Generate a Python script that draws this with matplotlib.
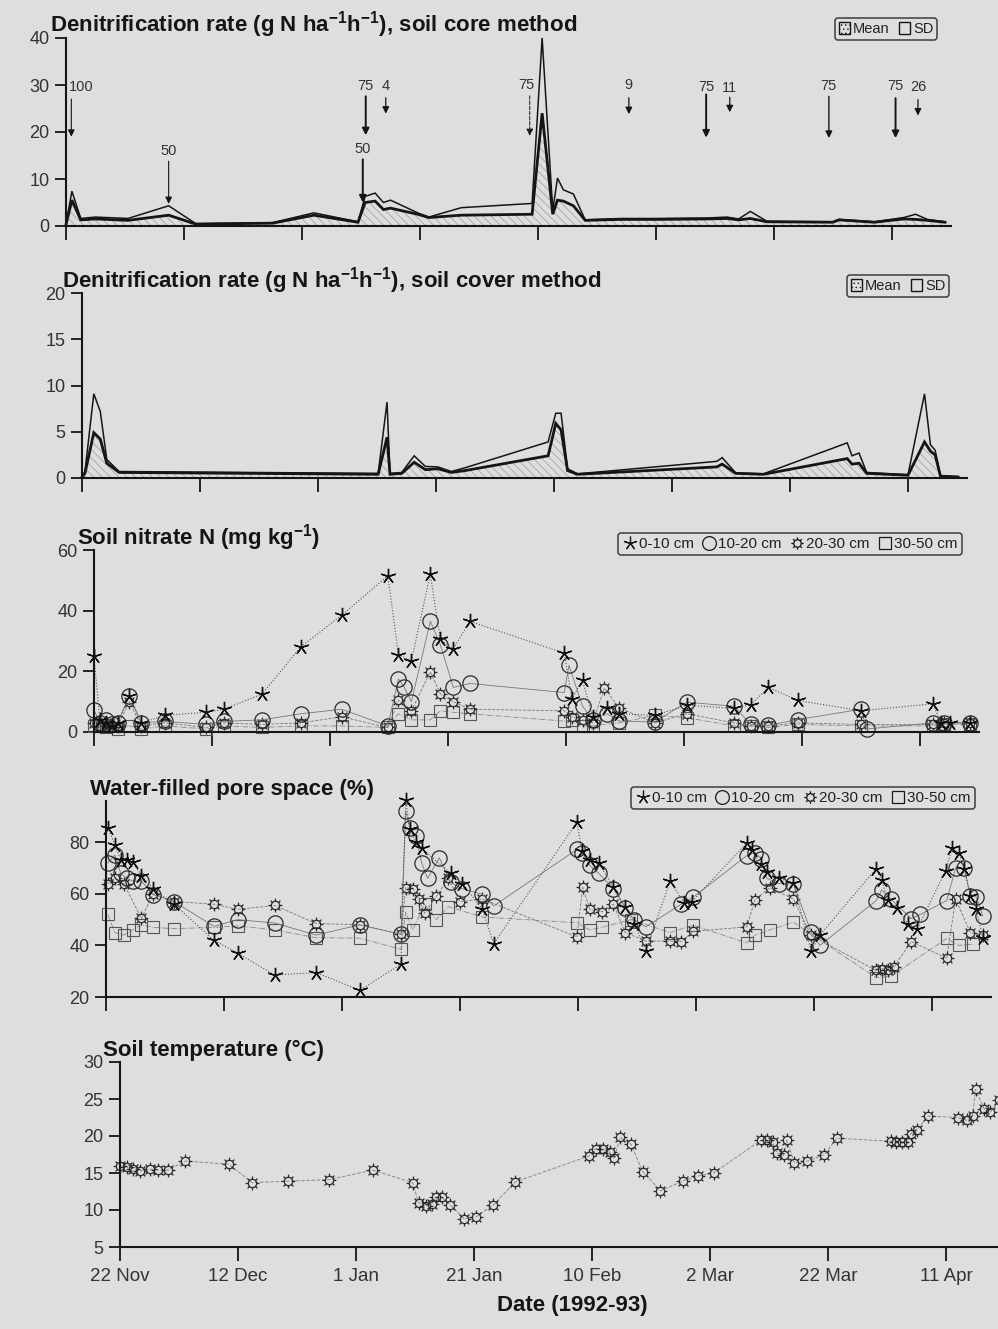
import matplotlib
matplotlib.use('Agg')
import matplotlib.pyplot as plt
from matplotlib.path import Path
from matplotlib.patches import Patch
from matplotlib.lines import Line2D
import numpy as np

plt.rcParams['font.family'] = ['Liberation Sans', 'DejaVu Sans']
plt.rcParams['mathtext.default'] = 'regular'
plt.rcParams['hatch.linewidth'] = 0.5

# ---------------- data ----------------
tick_days = [0, 20, 40, 60, 80, 100, 120, 140]
tick_labels = ['22 Nov', '12 Dec', '1 Jan', '21 Jan', '10 Feb', '2 Mar', '22 Mar', '11 Apr']

# Panel 1: soil core method
core_days = [0, 1, 2.5, 5, 10.5, 17.4, 22, 35, 42, 49.5, 50.7, 52.4, 53.8, 55, 59.6, 61.5, 67, 79, 80.7,
             82.5, 83.3, 84.3, 86, 88, 94, 100, 108.6, 112, 114, 116, 118.8, 130, 131, 137, 142, 144, 146, 149]
core_mean = [0.3, 5.5, 1.3, 1.5, 1.2, 2.3, 0.4, 0.6, 2.3, 0.8, 5.0, 5.3, 3.5, 3.8, 2.5, 1.8, 2.3, 2.5, 24,
             2.5, 5.5, 5.3, 4.3, 1.2, 1.4, 1.4, 1.5, 1.6, 1.3, 1.6, 0.9, 0.8, 1.3, 0.8, 1.5, 1.4, 1.2, 0.8]
core_sd = [0.1, 1.9, 0.3, 0.4, 0.4, 2.0, 0.1, 0.1, 0.5, 0.1, 1.3, 1.7, 1.5, 1.7, 0.3, 0.1, 1.6, 2.3, 16,
           0.8, 4.7, 2.4, 2.5, 0.1, 0.2, 0.2, 0.2, 0.3, 0.2, 1.5, 0.1, 0.1, 0.1, 0.1, 0.3, 1.1, 0.2, 0.1]

arrow_days = [0.9, 17.4, 50.8, 54.2, 50.3, 78.6, 95.4, 108.5, 112.5, 129.3, 140.6, 144.4]
arrow_labels = ['100', '50', '75', '4', '50', '75', '9', '75', '11', '75', '75', '26']
arrow_tail = [27, 13.8, 27.6, 27.3, 14.2, 27.7, 27.3, 28, 27.4, 27.6, 27.2, 26.9]
arrow_head = [19, 4.7, 19.3, 23.9, 5.0, 19.2, 23.8, 18.8, 24.2, 18.7, 18.7, 23.5]
arrow_label_v = [29.6, 16, 29.7, 29.7, 16.3, 29.9, 30, 29.6, 29.3, 29.7, 29.8, 29.5]
arrow_label_day = [2.6, 17.4, 50.8, 54.2, 50.3, 78.0, 95.4, 108.5, 112.5, 129.3, 140.6, 144.4]
arrow_lw = [0.8, 0.8, 1.4, 0.9, 1.4, 0.7, 0.9, 1.4, 0.9, 1.0, 1.4, 0.9]
arrow_ls = ['-', '-', '-', '-', '-', '--', '-', '-', '-', '-', '-', '-']

# Panel 2: soil cover method
cover_days = [0, 0.5, 2, 3.1, 4.2, 6.3, 50.2, 51.7, 52.2, 54.2, 56.3, 58.2, 60.3, 62.6, 64.9, 79, 80.3, 81.2,
              82.3, 84, 107.6, 108.5, 110.8, 115.5, 129.7, 130.5, 131.7, 133, 140, 142.8, 143.8, 144.6, 145.5, 148.5]
cover_mean = [0.1, 0.5, 4.9, 4.2, 1.6, 0.6, 0.4, 4.4, 0.4, 0.5, 1.7, 0.9, 1.0, 0.6, 0.8, 2.4, 5.9, 5.2,
              0.8, 0.4, 1.2, 1.5, 0.5, 0.4, 2.1, 1.5, 1.6, 0.5, 0.3, 3.9, 2.9, 2.5, 0.2, 0.1]
cover_sd = [0.1, 0.2, 4.2, 3.0, 0.4, 0.1, 0.1, 3.8, 0.1, 0.1, 0.7, 0.35, 0.2, 0.1, 0.3, 1.5, 1.1, 1.8,
            0.2, 0.05, 0.6, 0.7, 0.05, 0.05, 1.7, 0.9, 1.1, 0.1, 0.05, 5.2, 0.7, 0.5, 0.05, 0.05]

# Panel 3: soil nitrate N
no3_star_days = [0, 1, 2, 3, 4, 6, 8, 12, 19, 22, 28.5, 35, 42, 49.8, 51.6, 53.8, 57, 58.7, 60.9, 63.7,
                 79.7, 81, 82.8, 84.5, 87, 89, 95, 100.5, 108.5, 111.3, 114.3, 119.3, 130, 142.2, 143.5, 145, 148.5]
no3_star = [25, 4, 3, 2, 3, 12, 3, 5.5, 6.5, 7.5, 12.5, 28, 38.5, 51.5, 25.5, 23.5, 52, 30.5, 27.5, 36.5,
            26, 11, 17, 5, 8, 6, 5.5, 8.8, 7.8, 9, 14.7, 10.4, 7, 9.3, 3, 3, 3]
no3_circ_days = [0, 1, 2, 3, 4, 6, 8, 12, 19, 22, 28.5, 35, 42, 49.8, 51.6, 52.5, 53.8, 57, 58.7, 60.9,
                 63.7, 79.7, 80.5, 82.8, 84.5, 87, 89, 95, 100.5, 108.5, 111.3, 114.3, 119.3, 130, 131, 142.2, 144, 148.5]
no3_circ = [7.3, 3, 4, 2.5, 3, 12, 3, 3.5, 2.5, 3.5, 4, 6, 7.5, 2, 17.5, 15, 10, 36.5, 28.8, 14.7,
            16, 13, 22, 8.5, 4, 6, 3.6, 3.3, 9.8, 8.5, 2.5, 2.2, 4.1, 7.5, 1, 3, 3, 3]
no3_sun_days = [0, 1, 2, 3, 4, 6, 8, 12, 19, 22, 28.5, 35, 42, 49.8, 51.6, 53.8, 57, 58.7, 60.9, 63.7,
                79.7, 81, 82.8, 84.5, 86.5, 89, 95, 100.5, 108.5, 111.3, 114.3, 119.3, 130, 142.2, 144, 148.5]
no3_sun = [3, 2, 3, 1.5, 2, 10, 2, 3, 1.5, 3, 2.5, 3, 5, 1.5, 10.5, 7, 19.8, 12.6, 10, 7.5,
           7, 5, 4, 3, 14.5, 8, 3, 6, 3, 2, 2, 3, 2.5, 2.5, 3, 3]
no3_sq_days = [0, 2, 4, 6, 8, 12, 19, 22, 28.5, 35, 42, 49.8, 51.6, 53.8, 57, 58.7, 60.9, 63.7, 79.7, 81,
               82.8, 84.5, 89, 95, 100.5, 108.5, 111.3, 114.3, 119.3, 130, 142.2, 144, 148.5]
no3_sq = [2, 1.5, 1, 2, 1, 2, 1, 2, 1.5, 2, 2, 1.5, 6, 4, 4, 7, 6.5, 6, 3.6, 4,
          2, 2, 3, 5.5, 4.7, 2, 2, 1.5, 2.5, 2, 2, 2.5, 2.5]

# Panel 4: water-filled pore space
wf_star_days = [0.3, 1.5, 2.5, 3.5, 4.5, 6, 8, 11.5, 18.3, 22.3, 28.6, 35.6, 43, 50, 50.8, 51.5, 52.5, 53.5,
                58.4, 60.4, 63.8, 65.7, 79.8, 80.7, 82, 83.5, 86, 88, 89.5, 91.5, 95.6, 98, 99.3, 108.6, 109.5,
                111, 112, 114, 116.5, 119.5, 121, 130.5, 131.5, 132.5, 134, 136, 137.5, 142.3, 143.4, 144.5,
                145.5, 146.5, 147.5, 148.6]
wf_star = [85.7, 79, 73, 73, 72.5, 67, 62, 56, 42, 37, 28.5, 29.5, 22.6, 32.7, 96.5, 85, 80, 77.6,
           68, 64, 54, 40.6, 87.7, 76.5, 73, 72, 62.5, 55, 48.5, 38, 64.8, 56.6, 57, 79.7, 77,
           71.5, 68.6, 66, 64.2, 38, 44, 69.7, 65.2, 57.5, 54.5, 48.4, 46.3, 69, 77.6, 76,
           69.5, 59, 54, 43]
wf_circ_days = [0.3, 1.5, 2.5, 3.5, 4.5, 6, 8, 11.5, 18.3, 22.3, 28.6, 35.6, 43, 50, 50.8, 51.5, 52.5, 53.5,
                54.5, 56.5, 58.4, 60.4, 63.8, 65.7, 79.8, 80.7, 82, 83.5, 86, 88, 89.5, 91.5, 97.5, 99.5,
                108.6, 110, 111, 112, 114, 116.5, 119.5, 121, 130.5, 131.5, 133, 136.5, 138, 142.5, 144,
                145.5, 146.5, 147.5, 148.6]
wf_circ = [72, 75, 68, 66, 65, 65, 59.7, 57, 47.4, 50, 48.7, 44, 48, 44.3, 92, 85.6, 82.6, 72,
           66, 74, 64.4, 62, 59.8, 55.3, 77.2, 76, 71, 68, 62, 54.7, 50, 47.2, 56, 58.7,
           74.8, 76, 73.7, 66, 64, 63.8, 45.3, 40, 57.3, 61.5, 58, 50.4, 52, 57.4, 70,
           69.9, 59, 58.8, 51.4]
wf_sun_days = [0.3, 1.5, 3, 6, 8, 11.5, 18.3, 22.3, 28.6, 35.6, 43, 50, 50.8, 52, 53, 54, 56, 58, 60, 63.8,
               79.8, 80.8, 82, 84, 86, 88, 91.5, 95.6, 97.5, 99.5, 108.6, 110, 112.5, 116.5, 119.5, 130.5,
               131.5, 132.5, 133.5, 136.5, 142.5, 144, 146.5, 148.6]
wf_sun = [64, 66, 64, 50.5, 60, 57, 56, 54, 55.5, 48.5, 48, 44.3, 62.4, 62, 58, 52.5, 59, 66, 57, 58,
          43.3, 62.5, 54, 53, 56, 45, 41.7, 41.7, 41.5, 45.4, 47.2, 57.7, 62.4, 58, 43.9, 30.3,
          31, 30.5, 31.5, 41.5, 35, 58, 45, 44]
wf_sq_days = [0.3, 1.5, 3, 4.5, 6, 8, 11.5, 18.3, 22.3, 28.6, 35.6, 43, 50, 50.8, 52, 54, 56, 58, 63.8, 79.8,
              82, 84, 89, 95.6, 99.5, 108.6, 110, 112.5, 116.5, 130.5, 133, 142.5, 144.5, 147]
wf_sq = [52, 45, 44, 46, 48, 47, 46.5, 47, 47.6, 46, 43, 42.8, 38.5, 53, 46, 56, 50, 55, 51, 48.8,
         46, 47, 50, 45, 47.8, 41, 44, 46, 49, 27.5, 28, 42.7, 40, 40.5]

# Panel 5: soil temperature
temp_days = [0, 1.2, 2.2, 3.4, 5.1, 6.5, 8.1, 11.1, 18.4, 22.4, 28.4, 35.5, 42.8, 49.6, 50.6, 51.8, 52.8, 53.5,
             54.5, 56, 58.3, 60.4, 63.3, 67, 79.5, 80.6, 81.8, 83, 83.7, 84.8, 86.6, 88.6, 91.6, 95.4, 98,
             100.6, 108.6, 109.6, 110.6, 111.4, 112.5, 113, 114.3, 116.5, 119.4, 121.5, 130.6, 131.5, 132.5,
             133.5, 134, 135, 137, 142, 143.5, 144.5, 145, 146.5, 147.5, 149]
temp = [16, 15.8, 15.6, 15.3, 15.5, 15.4, 15.4, 16.6, 16.2, 13.7, 13.9, 14.1, 15.4, 13.7, 11, 10.5, 10.8, 11.7,
        11.7, 10.7, 8.8, 9.1, 10.7, 13.8, 17.3, 18.3, 18.2, 17.8, 17, 19.8, 18.9, 15.2, 12.6, 13.9, 14.6,
        15, 19.4, 19.4, 19.2, 17.7, 17.4, 19.4, 16.4, 16.6, 17.5, 19.7, 19.3, 19.2, 19.2,
        19.2, 20.3, 20.8, 22.7, 22.5, 22.1, 22.7, 26.3, 23.6, 23.2, 24.9]

depth_labels = ['0-10 cm', '10-20 cm', '20-30 cm', '30-50 cm']

# ---------------- markers ----------------
r0 = 0.6
sun_verts, sun_codes = [], []
for a in np.linspace(0, 2 * np.pi, 8, endpoint=False):
    sun_verts += [(r0 * np.cos(a), r0 * np.sin(a)), (np.cos(a), np.sin(a))]
    sun_codes += [Path.MOVETO, Path.LINETO]
SUN = Path.make_compound_path(Path.circle((0, 0), r0), Path(sun_verts, sun_codes))
STAR = (5, 2, 0)

BG = '#dedede'
INK = '#151515'

W, H = 998, 1329
fig = plt.figure(figsize=(W / 100, H / 100), dpi=100)
fig.patch.set_facecolor(BG)


def add_ax(x, top, w, bot):
    return fig.add_axes([x / W, 1 - bot / H, w / W, (bot - top) / H])


def style(ax, ylim, yticks, xlabels=False):
    ax.set_facecolor('none')
    ax.set_xlim(0, 150)
    ax.set_ylim(*ylim)
    for s in ['top', 'right']:
        ax.spines[s].set_visible(False)
    for s in ['left', 'bottom']:
        ax.spines[s].set_linewidth(1.5)
        ax.spines[s].set_color(INK)
    ax.set_xticks(tick_days)
    ax.set_yticks(yticks)
    ax.tick_params(axis='both', direction='out', width=1.3, color=INK, labelsize=13, labelcolor='#333333')
    ax.tick_params(axis='x', length=10, pad=5)
    ax.tick_params(axis='y', length=8, pad=4)
    if xlabels:
        ax.set_xticklabels(tick_labels, fontsize=13.5)
    else:
        ax.set_xticklabels([])


ax1 = add_ax(66, 38, 885, 226)
ax2 = add_ax(82, 293, 885, 478)
ax3 = add_ax(94, 550, 885, 732)
ax4 = add_ax(106, 801, 885, 997)
ax5 = add_ax(120, 1062, 885, 1247)

style(ax1, (0, 40), [0, 10, 20, 30, 40])
style(ax2, (0, 20), [0, 5, 10, 15, 20])
style(ax3, (0, 60), [0, 20, 40, 60])
style(ax4, (20, 96), [20, 40, 60, 80])
style(ax5, (5, 30), [5, 10, 15, 20, 25, 30], xlabels=True)


def mean_sd(ax, days, mean, sd):
    m = np.array(mean)
    up = m + np.array(sd)
    ax.fill_between(days, 0, m, facecolor='none', edgecolor='#9a9a9a', hatch='\\\\\\\\', linewidth=0)
    ax.plot(days, up, color=INK, lw=1.1, clip_on=False, solid_joinstyle='miter')
    ax.plot(days, m, color=INK, lw=2.0, clip_on=False, solid_joinstyle='miter')


def ms_legend(ax, cx, cy):
    handles = [Patch(facecolor='none', edgecolor=INK, hatch='....', label='Mean'),
               Patch(facecolor='none', edgecolor=INK, label='SD')]
    leg = ax.legend(handles=handles, loc='center', bbox_to_anchor=(cx / W, 1 - cy / H),
                    bbox_transform=fig.transFigure, ncol=2, fontsize=10.5, frameon=True, fancybox=True,
                    handlelength=0.8, handleheight=0.8, handletextpad=0.2, columnspacing=0.6,
                    borderpad=0.25, borderaxespad=0)
    leg.get_frame().set_edgecolor(INK)
    leg.get_frame().set_facecolor('none')
    leg.get_frame().set_linewidth(1.1)
    for t in leg.get_texts():
        t.set_color('#222222')


mean_sd(ax1, core_days, core_mean, core_sd)
ms_legend(ax1, 886, 29)
for d, lab, t0, h0, lv, ld, lw, ls in zip(arrow_days, arrow_labels, arrow_tail, arrow_head,
                                          arrow_label_v, arrow_label_day, arrow_lw, arrow_ls):
    ax1.annotate('', xy=(d, h0), xytext=(d, t0),
                 arrowprops=dict(arrowstyle='-|>', lw=lw, ls=ls, color=INK, mutation_scale=10,
                                 shrinkA=0, shrinkB=0))
    ax1.text(ld, lv, lab, ha='center', va='center', fontsize=10.5, color='#333333')

mean_sd(ax2, cover_days, cover_mean, cover_sd)
ms_legend(ax2, 898, 286)


series_style = [
    dict(marker=STAR, ms=11, ls=':', color='#555555', lw=0.8, mec='#111111', mew=1.0),
    dict(marker='o', ms=11, ls='-', color='#777777', lw=0.6, mec='#2a2a2a', mew=0.9),
    dict(marker=SUN, ms=10, ls='--', color='#777777', lw=0.6, mec='#2a2a2a', mew=0.9),
    dict(marker='s', ms=9, ls='-.', color='#888888', lw=0.6, mec='#555555', mew=0.8),
]


def depth_panel(ax, sets):
    for (d, v), st in list(zip(sets, series_style))[::-1]:
        ax.plot(d, v, mfc='none', clip_on=False, **st)


def depth_legend(ax, cx, cy):
    handles = [Line2D([], [], ls='none', marker=st['marker'], ms=st['ms'] * 0.9, mfc='none',
                      mec='#1a1a1a', mew=0.9, label=lab) for st, lab in zip(series_style, depth_labels)]
    leg = ax.legend(handles=handles, loc='center', bbox_to_anchor=(cx / W, 1 - cy / H),
                    bbox_transform=fig.transFigure, ncol=4, fontsize=11, frameon=True, fancybox=True,
                    handlelength=1.0, handletextpad=0.1, columnspacing=0.5, borderpad=0.25,
                    borderaxespad=0)
    leg.get_frame().set_edgecolor(INK)
    leg.get_frame().set_facecolor('none')
    leg.get_frame().set_linewidth(1.1)
    for t in leg.get_texts():
        t.set_color('#222222')


depth_panel(ax3, [(no3_star_days, no3_star), (no3_circ_days, no3_circ),
                  (no3_sun_days, no3_sun), (no3_sq_days, no3_sq)])
depth_legend(ax3, 790, 544)

depth_panel(ax4, [(wf_star_days, wf_star), (wf_circ_days, wf_circ),
                  (wf_sun_days, wf_sun), (wf_sq_days, wf_sq)])
depth_legend(ax4, 803, 798)

ax5.plot(temp_days, temp, ls='--', color='#8a8a8a', lw=0.7, marker=SUN, ms=10, mfc='none',
         mec='#2a2a2a', mew=0.9, clip_on=False)

# titles
tkw = dict(fontsize=16, fontweight='bold', ha='left', va='center', color=INK)
fig.text(50 / W, 1 - 25 / H, r'Denitrification rate (g N ha$^{-1}$h$^{-1}$), soil core method', **tkw)
fig.text(62 / W, 1 - 281 / H, r'Denitrification rate (g N ha$^{-1}$h$^{-1}$), soil cover method', **tkw)
fig.text(77 / W, 1 - 538 / H, r'Soil nitrate N (mg kg$^{-1}$)', **tkw)
fig.text(90 / W, 1 - 789 / H, 'Water-filled pore space (%)', **tkw)
fig.text(103 / W, 1 - 1050 / H, 'Soil temperature (°C)', **tkw)
fig.text(572 / W, 1 - 1306 / H, 'Date (1992-93)', fontsize=16, fontweight='bold', ha='center',
         va='center', color=INK)

fig.savefig('out.png', dpi=100, facecolor=BG)
